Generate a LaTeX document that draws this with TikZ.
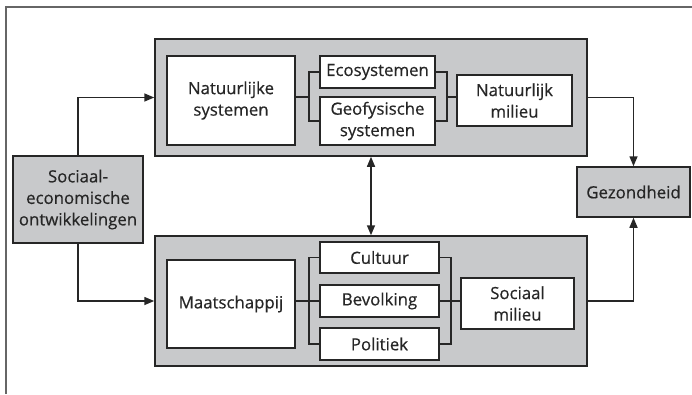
\documentclass[tikz,border=0pt]{standalone}
\usepackage{fontspec}
\setmainfont{Open Sans}
\newfontfamily\diagfont{Open Sans}[FakeBold=0.5]
\usetikzlibrary{arrows.meta}
\definecolor{boxgray}{HTML}{C8C9CB}
\definecolor{linec}{HTML}{262626}
\definecolor{framec}{HTML}{666666}
\tikzset{
  txt/.style={font=\diagfont\fontsize{16.8}{21.5}\selectfont, text=linec, align=center, inner sep=0pt},
  graybox/.style={draw=linec, fill=boxgray, line width=1.5pt},
  whitebox/.style={txt, draw=linec, fill=white, line width=1.5pt},
  conn/.style={draw=linec, line width=1.5pt},
  arr/.style={conn, -{Triangle[length=10pt,width=8pt]}},
  darr/.style={conn, {Triangle[length=10pt,width=8pt]}-{Triangle[length=10pt,width=8pt]}},
}
\begin{document}
\begin{tikzpicture}[x=1pt,y=-1pt]
\useasboundingbox (0,0) rectangle (692,394);
\draw[framec, line width=2.2pt] (6,394) -- (6,7) -- (692,7);

\node[graybox, minimum width=432pt, minimum height=117pt] (topgray) at (371,97.5) {};
\node[graybox, minimum width=432pt, minimum height=130pt] (botgray) at (371,301) {};

\node[whitebox, minimum width=128pt, minimum height=89pt] (natsys) at (231,100.5) {Natuurlijke\\systemen};
\node[whitebox, minimum width=115pt, minimum height=32pt] (eco) at (377.5,72) {Ecosystemen};
\node[whitebox, minimum width=115pt, minimum height=48pt] (geo) at (377.5,121) {Geofysische\\systemen};
\node[whitebox, minimum width=115pt, minimum height=51pt] (natmil) at (514.5,100.5) {Natuurlijk\\milieu};

\node[whitebox, minimum width=128pt, minimum height=88pt] (maat) at (231,304) {Maatschappij};
\node[whitebox, minimum width=119pt, minimum height=31pt] (cult) at (379.5,257.5) {Cultuur};
\node[whitebox, minimum width=119pt, minimum height=32pt] (bevo) at (379.5,301) {Bevolking};
\node[whitebox, minimum width=119pt, minimum height=32pt] (poli) at (379.5,344) {Politiek};
\node[whitebox, minimum width=113pt, minimum height=51pt] (socmil) at (517.5,303.5) {Sociaal\\milieu};

\node[txt, graybox, minimum width=113pt, minimum height=50pt] (gez) at (633.5,192) {Gezondheid};
\node[txt, graybox, minimum width=130pt, minimum height=87pt] (soc) at (78,199.5) {Sociaal-\\economische\\ontwikkelingen};

% brackets
\coordinate (b1) at (309,97);
\coordinate (b2) at (447,97);
\coordinate (b3) at (309,301);
\coordinate (b4) at (451,301);
\draw[conn] (eco.west) -| (b1) |- (geo.west);
\draw[conn] (natsys.east |- b1) -- (b1);
\draw[conn] (eco.east) -| (b2) |- (geo.east);
\draw[conn] (b2) -- (natmil.west |- b2);
\draw[conn] (cult.west) -| (b3) |- (poli.west);
\draw[conn] (maat.east |- b3) -- (bevo.west);
\draw[conn] (cult.east) -| (b4) |- (poli.east);
\draw[conn] (bevo.east) -- (socmil.west |- bevo.east);

% arrows
\draw[arr] (soc.north) |- (topgray.west);
\draw[arr] (soc.south) |- (botgray.west);
\draw[arr] (topgray.east) -| (gez.north);
\draw[arr] (botgray.east) -| (gez.south);
\draw[darr] (topgray.south) -- (botgray.north);
\end{tikzpicture}
\end{document}
